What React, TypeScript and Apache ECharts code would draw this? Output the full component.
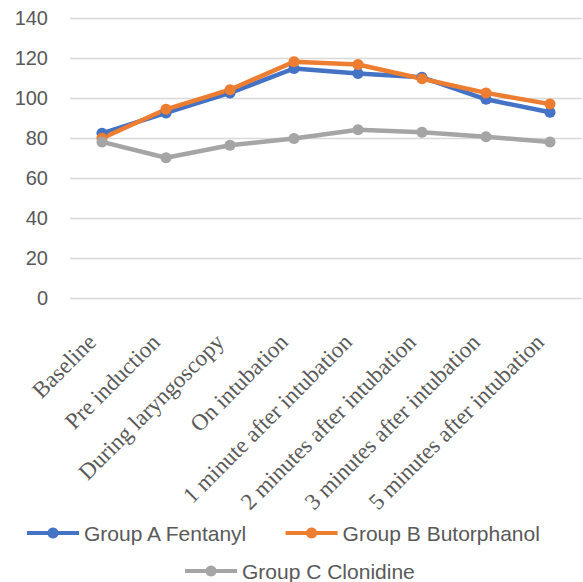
import React, { useEffect, useRef } from "react";
import * as echarts from "echarts";

const categories = [
  "Baseline",
  "Pre induction",
  "During laryngoscopy",
  "On intubation",
  "1 minute after intubation",
  "2 minutes after intubation",
  "3 minutes after intubation",
  "5 minutes after intubation",
];
const groupA = [82.5, 92.7, 102.7, 114.9, 112.4, 110.5, 99.5, 93];
const groupB = [80, 94.5, 104.3, 118.3, 116.9, 109.8, 102.7, 97.1];
const groupC = [78.2, 70.3, 76.5, 79.9, 84.3, 83, 80.8, 78.1];
const yTicks = { min: 0, max: 140, interval: 20 };

export default function App() {
  const ref = useRef<HTMLDivElement>(null);
  useEffect(() => {
    if (!ref.current) return;
    const chart = echarts.init(ref.current, undefined, { renderer: "svg" });
    const mk = (name: string, data: number[], color: string) => ({
      name,
      type: "line",
      data,
      color,
      symbol: "circle",
      symbolSize: 11,
      lineStyle: { width: 4.5, color },
      itemStyle: { color },
      emphasis: { disabled: true },
    });
    const legendText = { fontFamily: "Liberation Sans, Arial, sans-serif", fontSize: 21, color: "#595959" };
    chart.setOption({
      animation: false,
      grid: { left: 70, right: 1, top: 18.3, bottom: 283.7 },
      legend: [
        {
          data: ["Group A Fentanyl", "Group B Butorphanol"],
          left: 25,
          top: 522.5,
          padding: 0,
          itemWidth: 52,
          itemHeight: 14,
          itemGap: 35,
          lineStyle: { width: 4 },
          textStyle: legendText,
        },
        {
          data: ["Group C Clonidine"],
          left: 183,
          top: 560.5,
          padding: 0,
          itemWidth: 52,
          itemHeight: 14,
          lineStyle: { width: 4 },
          textStyle: legendText,
        },
      ],
      xAxis: {
        type: "category",
        data: categories,
        boundaryGap: true,
        axisLine: { show: false },
        axisTick: { show: false },
        axisLabel: {
          rotate: 45,
          interval: 0,
          margin: 30,
          padding: [0, 14, 0, 0],
          fontFamily: "Liberation Serif, Times New Roman, serif",
          fontSize: 23,
          color: "#595959",
        },
      },
      yAxis: {
        type: "value",
        min: yTicks.min,
        max: yTicks.max,
        interval: yTicks.interval,
        axisLine: { show: false },
        axisTick: { show: false },
        splitLine: { lineStyle: { color: "#d9d9d9", width: 1.3 } },
        axisLabel: {
          margin: 22,
          fontFamily: "Liberation Sans, Arial, sans-serif",
          fontSize: 20,
          color: "#595959",
        },
      },
      series: [
        mk("Group A Fentanyl", groupA, "#4472C4"),
        mk("Group B Butorphanol", groupB, "#ED7D31"),
        mk("Group C Clonidine", groupC, "#A5A5A5"),
      ],
    });
    return () => chart.dispose();
  }, []);
  return (
    <div
      ref={ref}
      style={{ position: "fixed", left: 0, top: 0, width: 583, height: 582, background: "#fff" }}
    />
  );
}
